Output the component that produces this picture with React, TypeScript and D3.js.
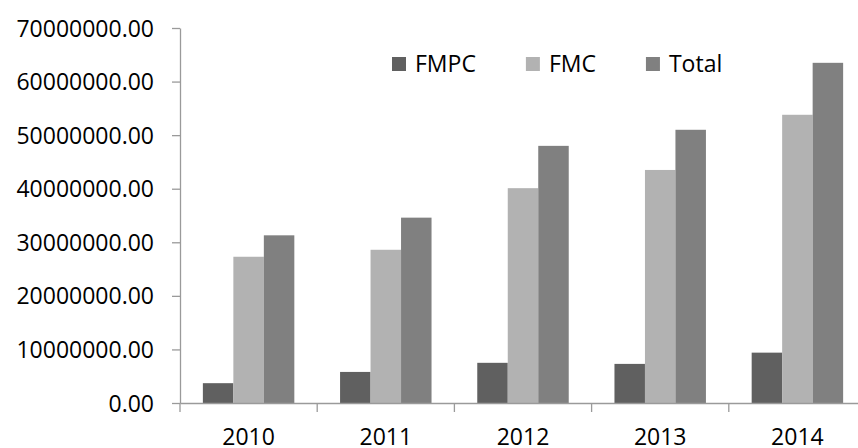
import { axisBottom, axisLeft, format, scaleBand, scaleLinear, select } from "d3";
import { useEffect, useRef } from "react";

const years = ["2010", "2011", "2012", "2013", "2014"];
const seriesNames = ["FMPC", "FMC", "Total"];
const fmpc = [3700000, 5800000, 7500000, 7300000, 9400000];
const fmc = [27300000, 28600000, 40100000, 43500000, 53800000];
const total = [31300000, 34600000, 48000000, 51000000, 63500000];
const yTicks = [0, 10000000, 20000000, 30000000, 40000000, 50000000, 60000000, 70000000];
const colors = ["#606060", "#b2b2b2", "#808080"];

const W = 858;
const H = 448;
const FONT = "'Open Sans', sans-serif";

export default function App() {
  const svgRef = useRef<SVGSVGElement | null>(null);

  useEffect(() => {
    if (!svgRef.current) return;
    const svg = select(svgRef.current);
    svg.selectAll("*").remove();

    const margin = { top: 28, left: 180, bottom: 45 };
    const plotRight = 866;
    const zeroY = H - margin.bottom;

    const x = scaleBand<string>().domain(years).range([margin.left, plotRight]).padding(0);
    const inner = scaleBand<string>()
      .domain(seriesNames)
      .range([0, x.bandwidth()])
      .paddingInner(0)
      .paddingOuter(0.75);
    const y = scaleLinear().domain([0, 70000000]).range([zeroY, margin.top]);

    const rows = years.map((year, i) => ({ year, values: [fmpc[i], fmc[i], total[i]] }));

    // bars
    const groups = svg
      .append("g")
      .selectAll("g")
      .data(rows)
      .join("g")
      .attr("transform", (d) => `translate(${x(d.year)},0)`);
    groups
      .selectAll("rect")
      .data((d) => d.values.map((v, k) => ({ name: seriesNames[k], v, k })))
      .join("rect")
      .attr("x", (d) => inner(d.name) ?? 0)
      .attr("y", (d) => y(d.v))
      .attr("width", inner.bandwidth())
      .attr("height", (d) => zeroY - y(d.v))
      .attr("fill", (d) => colors[d.k]);

    // y axis
    const yAxis = svg
      .append("g")
      .attr("transform", `translate(${margin.left},0)`)
      .call(axisLeft(y).tickValues(yTicks).tickFormat(format(".2f")).tickSize(8).tickSizeOuter(0));
    yAxis.select(".domain").attr("stroke", "#9a9a9a").attr("stroke-width", 1.3);
    yAxis.selectAll("line").attr("stroke", "#9a9a9a").attr("stroke-width", 1.3);
    yAxis
      .selectAll("text")
      .attr("x", -26)
      .attr("dy", "0.35em")
      .attr("fill", "#000")
      .style("font-family", FONT)
      .style("font-size", "23px");

    // x axis
    const xAxis = svg
      .append("g")
      .attr("transform", `translate(0,${zeroY})`)
      .call(axisBottom(x).tickSize(0).tickSizeOuter(0));
    xAxis.select(".domain").attr("stroke", "#9a9a9a").attr("stroke-width", 1.3);
    xAxis.selectAll("line").remove();
    xAxis
      .selectAll("text")
      .attr("y", 34)
      .attr("dy", "0.35em")
      .attr("fill", "#000")
      .style("font-family", FONT)
      .style("font-size", "23px");
    xAxis
      .selectAll("line.sep")
      .data(years)
      .join("line")
      .attr("class", "sep")
      .attr("x1", (d) => x(d) ?? 0)
      .attr("x2", (d) => x(d) ?? 0)
      .attr("y1", 0)
      .attr("y2", 9)
      .attr("stroke", "#9a9a9a")
      .attr("stroke-width", 1.3);

    // legend
    const legend = svg.append("g").attr("transform", "translate(392,57)");
    let lx = 0;
    seriesNames.forEach((name, i) => {
      const item = legend.append("g").attr("transform", `translate(${lx},0)`);
      item.append("rect").attr("width", 14).attr("height", 14).attr("fill", colors[i]);
      const t = item
        .append("text")
        .attr("x", 23)
        .attr("y", 7)
        .attr("dy", "0.35em")
        .style("font-family", FONT)
        .style("font-size", "23px")
        .text(name);
      const tw = (t.node() as SVGTextElement).getComputedTextLength();
      lx += 23 + tw + 50;
    });
  }, []);

  return (
    <svg
      ref={svgRef}
      width={W}
      height={H}
      style={{ position: "absolute", left: 0, top: 0, background: "#fff" }}
    />
  );
}
